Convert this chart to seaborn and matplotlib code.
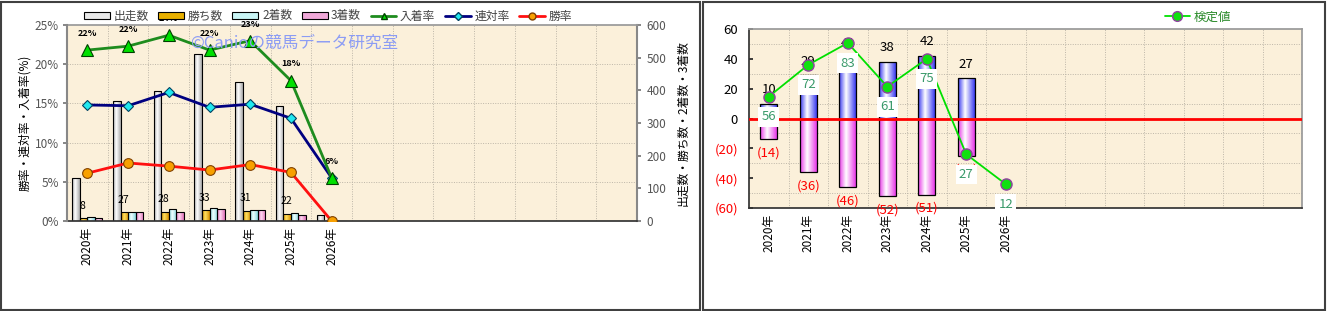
import numpy as np
import pandas as pd
import matplotlib
matplotlib.use("Agg")
import matplotlib.pyplot as plt
import seaborn as sns
from matplotlib.patches import Patch, Rectangle
from matplotlib.lines import Line2D
from matplotlib.colors import LinearSegmentedColormap

# ---------------- data ----------------
years = ['2020年', '2021年', '2022年', '2023年', '2024年', '2025年', '2026年']
runs = [132, 367, 398, 511, 427, 353, 17]
wins = [8, 27, 28, 33, 31, 22, 0]
seconds = [12, 27, 37, 41, 33, 24, 1]
thirds = [9, 28, 29, 37, 34, 17, 0]
top3_rate = [21.8, 22.3, 23.7, 21.8, 23.0, 17.9, 5.5]
top3_labels = ['22%', '22%', '24%', '22%', '23%', '18%', '6%']
quin_rate = [14.8, 14.7, 16.4, 14.5, 14.9, 13.1, 5.5]
win_rate = [6.1, 7.4, 7.0, 6.5, 7.2, 6.2, 0.0]

pos_years = ['2020年', '2021年', '2022年', '2023年', '2024年', '2025年']
pos_vals = [10, 29, 41, 38, 42, 27]
neg_vals = [-14, -36, -46, -52, -51, -25]
test_vals = [56, 72, 83, 61, 75, 27, 12]

series_names = ['出走数', '勝ち数', '2着数', '3着数']
line_names = ['入着率', '連対率', '勝率']

# ---------------- style ----------------
sns.set_theme(style='white')
plt.rcParams['font.family'] = ['Noto Sans CJK JP', 'DejaVu Sans']

W, H = 1327, 311
fig = plt.figure(figsize=(W / 100, H / 100), dpi=100)
fig.patch.set_facecolor('white')

def fr(x0, y0, x1, y1):
    return [x0 / W, 1 - y1 / H, (x1 - x0) / W, (y1 - y0) / H]

BG = '#FBF0DA'
GRID = dict(color='#BDB6A8', lw=0.7, ls=(0, (1, 1.5)))
order = years + [' ' * (k + 1) for k in range(7)]

def shade(ax, patches, edge, center, z=2.0):
    cmap = LinearSegmentedColormap.from_list('g', [(0, edge), (0.42, center), (1, edge)])
    grad = np.linspace(0, 1, 64).reshape(1, -1)
    for p in patches:
        x, y, w, h = p.get_x(), p.get_y(), p.get_width(), p.get_height()
        if not np.isfinite(h) or h == 0:
            p.set_facecolor(edge)
            continue
        y0, y1 = min(y, y + h), max(y, y + h)
        im = ax.imshow(grad, cmap=cmap, extent=[x, x + w, y0, y1], aspect='auto',
                       origin='lower', zorder=z, interpolation='bilinear')
        im.set_clip_path(p)
        p.set_facecolor('none')
        p.set_zorder(z + 0.1)

# ================= left chart =================
ax = fig.add_axes(fr(67, 25, 637, 221))
ax.set_facecolor(BG)
df = pd.DataFrame({
    'year': years * 4,
    'series': sum([[s] * 7 for s in series_names], []),
    'value': runs + wins + seconds + thirds,
})
sns.barplot(data=df, x='year', y='value', hue='series', order=order,
            hue_order=series_names, width=0.74, dodge=True, ax=ax,
            edgecolor='black', linewidth=0.8, legend=False,
            palette=['#E0E0E0', '#E8B000', '#A8EEF0', '#F0A0D0'], saturation=1)
bars = [p for p in ax.patches]
grad_cols = [('#A8A8A8', '#FFFFFF'), ('#D89000', '#FFE060'),
             ('#88D8E0', '#F0FFFF'), ('#E070B8', '#FFD8F0')]
for k, (e, c) in enumerate(grad_cols):
    shade(ax, bars[k * 7:(k + 1) * 7], e, c)
ax.set_xlim(-0.5, 13.5)
ax.set_ylim(0, 600)
ax.set_xticks(range(14))
ax.set_xticklabels(years + [''] * 7, rotation=90, fontsize=8.5, color='black')
ax.set_xticks(np.arange(0.5, 13.5, 1), minor=True)
ax.grid(which='minor', axis='x', **GRID)
ax.set_axisbelow(True)
for yv in [120, 240, 360, 480]:
    ax.axhline(yv, zorder=0.5, **GRID)
ax.set_xlabel('')
ax.set_ylabel('')
ax.tick_params(axis='x', which='both', length=0, pad=4)
for s in ['top', 'right', 'left', 'bottom']:
    ax.spines[s].set_color('#999999')
ax.spines['bottom'].set_color('#333333')
ax.spines['right'].set_color('#888888')
ax.spines['right'].set_linewidth(1.5)

for i, w in enumerate(wins):
    if w > 0:
        ax.annotate(str(w), (i - 0.12, w), xytext=(0, 9), textcoords='offset points',
                    ha='center', va='center', fontsize=7.5, color='black', zorder=6)

ax2 = ax.twinx()
xs = np.arange(7)
sns.lineplot(x=xs, y=win_rate, ax=ax2, color='#FF1010', lw=2, marker='o', markersize=7,
             markerfacecolor='#F8A000', markeredgecolor='#804000', markeredgewidth=0.8, zorder=5)
sns.lineplot(x=xs, y=quin_rate, ax=ax2, color='#000080', lw=2, marker='D', markersize=5.5,
             markerfacecolor='#20E8F0', markeredgecolor='#004060', markeredgewidth=0.8, zorder=5)
sns.lineplot(x=xs, y=top3_rate, ax=ax2, color='#1E8C1E', lw=2, marker='^', markersize=8,
             markerfacecolor='#00E000', markeredgecolor='#004000', markeredgewidth=0.8, zorder=5)
for i, (v, lbl) in enumerate(zip(top3_rate, top3_labels)):
    ax2.annotate(lbl, (i, v), xytext=(0, 12), textcoords='offset points', ha='center',
                 va='center', fontsize=6.5, fontweight='bold', color='black')
ax2.set_ylim(0, 25)
ax2.set_xlim(-0.5, 13.5)
ax2.set_ylabel('')

# put bar-count axis on the right, rate axis on the left
ax.yaxis.tick_right()
ax.yaxis.set_label_position('right')
ax.set_yticks(range(0, 601, 100))
ax.tick_params(axis='y', which='major', direction='out', length=3, labelsize=8.5,
               labelcolor='#555555', color='#777777', right=True, left=False,
               labelright=True, labelleft=False, pad=4)
ax2.yaxis.tick_left()
ax2.yaxis.set_label_position('left')
ax2.set_yticks(range(0, 26, 5))
ax2.set_yticklabels([f'{v}%' for v in range(0, 26, 5)])
ax2.tick_params(axis='y', direction='out', length=3, labelsize=8.5, labelcolor='#555555',
                color='#777777', left=True, right=False, labelleft=True, labelright=False, pad=3)
for s in ['top', 'right', 'left', 'bottom']:
    ax2.spines[s].set_visible(False)
ax2.spines['left'].set_visible(True)
ax2.spines['left'].set_color('#888888')
ax2.spines['left'].set_linewidth(1.5)

fig.text(25 / W, 1 - 123 / H, '勝率・連対率・入着率(%)', rotation=90, ha='center', va='center',
         fontsize=8.5, color='black')
fig.text(683 / W, 1 - 123 / H, '出走数・勝ち数・2着数・3着数', rotation=90, ha='center',
         va='center', fontsize=8.5, color='black')
fig.text(190 / W, 1 - 43 / H, '©Canioの競馬データ研究室', ha='left', va='center',
         fontsize=12, color='#8C9CF4', zorder=10)

handles = [Patch(facecolor='#E8E8E8', edgecolor='black', lw=0.8),
           Patch(facecolor='#E8B000', edgecolor='black', lw=0.8),
           Patch(facecolor='#C8F4F4', edgecolor='black', lw=0.8),
           Patch(facecolor='#F0A8D8', edgecolor='black', lw=0.8),
           Line2D([], [], color='#1E8C1E', lw=2, marker='^', markersize=5,
                  markerfacecolor='#00E000', markeredgecolor='#004000'),
           Line2D([], [], color='#000080', lw=2, marker='D', markersize=4,
                  markerfacecolor='#20E8F0', markeredgecolor='#004060'),
           Line2D([], [], color='#FF1010', lw=2, marker='o', markersize=5,
                  markerfacecolor='#F8A000', markeredgecolor='#804000')]
fig.legend(handles, series_names + line_names, ncol=7, loc='center',
           bbox_to_anchor=(328 / W, 1 - 16 / H), frameon=False, fontsize=8.5,
           labelcolor='#444444', handlelength=2.2, handleheight=0.55, handletextpad=0.3,
           columnspacing=0.8)

# ================= right chart =================
ax3 = fig.add_axes(fr(749, 29, 1302, 208))
ax3.set_facecolor(BG)
sns.barplot(x=pos_years, y=pos_vals, order=order, ax=ax3, width=0.42, color='#6060FF',
            edgecolor='black', linewidth=0.9, saturation=1)
n_pos = len(ax3.patches)
sns.barplot(x=pos_years, y=neg_vals, order=order, ax=ax3, width=0.42, color='#FF60FF',
            edgecolor='black', linewidth=0.9, saturation=1)
shade(ax3, ax3.patches[:n_pos], '#3A3AF0', '#FFFFFF')
shade(ax3, ax3.patches[n_pos:], '#E838E8', '#FFFFFF')
ax3.set_xlim(-0.5, 13.5)
ax3.set_ylim(-60, 60)
ax3.set_yticks(range(-60, 61, 20))
ax3.set_yticklabels(['(60)', '(40)', '(20)', '0', '20', '40', '60'])
for t, v in zip(ax3.get_yticklabels(), range(-60, 61, 20)):
    t.set_color('red' if v < 0 else 'black')
ax3.set_yticks(range(-60, 61, 10), minor=True)
ax3.set_xticks(range(14))
ax3.set_xticklabels(years + [''] * 7, rotation=90, fontsize=8.5, color='black')
ax3.set_xticks(np.arange(0.5, 13.5, 1), minor=True)
ax3.grid(which='minor', axis='both', **GRID)
ax3.set_axisbelow(True)
ax3.tick_params(axis='y', which='major', labelsize=9.5, length=3, direction='in', pad=8)
ax3.tick_params(axis='y', which='minor', length=0)
ax3.tick_params(axis='x', which='both', length=0, pad=4)
ax3.axhline(0, color='#FF0000', lw=2, zorder=3)
for s in ['top', 'right']:
    ax3.spines[s].set_color('#999999')
for s in ['left', 'bottom']:
    ax3.spines[s].set_color('#333333')
for i, v in enumerate(pos_vals):
    ax3.annotate(str(v), (i, v), xytext=(0, 10), textcoords='offset points', ha='center',
                 va='center', fontsize=9.5, color='black', zorder=6)
for i, v in enumerate(neg_vals):
    ax3.annotate(f'({-v})', (i, v), xytext=(0, -10), textcoords='offset points', ha='center',
                 va='center', fontsize=9.5, color='red', zorder=6)

ax4 = ax3.twinx()
sns.lineplot(x=np.arange(7), y=test_vals, ax=ax4, color='#00E000', lw=1.3, marker='o',
             markersize=8, markerfacecolor='#10E010', markeredgecolor='#9040A0',
             markeredgewidth=1.0, zorder=5)
for i, v in enumerate(test_vals):
    ax4.annotate(str(v), (i, v), xytext=(0, -14.5), textcoords='offset points', ha='center',
                 va='center', fontsize=9.5, color='#3A9A6A', zorder=7,
                 bbox=dict(boxstyle='square,pad=0.25', fc='white', ec='none'))
ax4.set_ylim(0, 90)
ax4.set_xlim(-0.5, 13.5)
ax4.set_yticks([])
for s in ax4.spines.values():
    s.set_visible(False)
ax4.set_ylabel('')
ax3.yaxis.tick_left()
ax3.tick_params(axis='y', which='major', labelleft=True, labelright=False)

fig.legend([Line2D([], [], color='#00E000', lw=1.3, marker='o', markersize=7,
                   markerfacecolor='#10E010', markeredgecolor='#9040A0')], ['検定値'],
           loc='center', bbox_to_anchor=(1198 / W, 1 - 17 / H), frameon=False,
           fontsize=9, labelcolor='#2A8A2A', handlelength=2.0, handletextpad=0.3)

# panel borders
fig.add_artist(Rectangle((1 / W, 1 / H), 699 / W, 308 / H, transform=fig.transFigure,
                         fill=False, ec='#404040', lw=1.5))
fig.add_artist(Rectangle((703 / W, 1 / H), 622 / W, 308 / H, transform=fig.transFigure,
                         fill=False, ec='#404040', lw=1.5))

fig.savefig('out.png', dpi=100)
